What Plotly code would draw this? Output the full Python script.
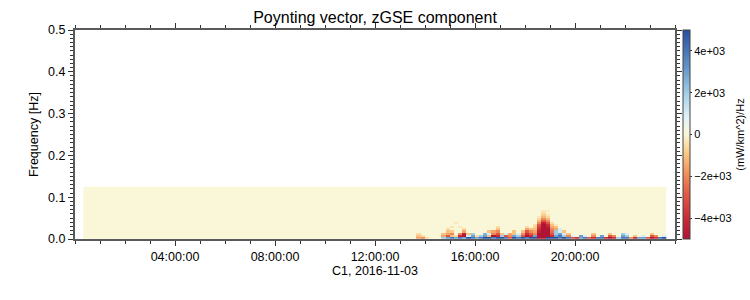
import plotly.graph_objects as go
from datetime import datetime, timedelta

# ---------------- data ----------------
title_text = "Poynting vector, zGSE component"
xaxis_title = "C1, 2016-11-03"
yaxis_title = "Frequency [Hz]"
cbar_title = "(mW/km^2)/Hz"

day_start = "2016-11-03 00:00:00"
day_end = "2016-11-04 00:00:00"
x_tick_times = ["2016-11-03 04:00:00", "2016-11-03 08:00:00", "2016-11-03 12:00:00",
                "2016-11-03 16:00:00", "2016-11-03 20:00:00"]

cbar_tickvals = [-4000, -2000, 0, 2000, 4000]
cbar_ticktext = ["\u22124e+03", "\u22122e+03", "0", "2e+03", "4e+03"]
z_min, z_max = -5000, 5000

# spectrogram grid: 10-minute columns starting 00:25 (centre), 0.005 Hz rows
first_col_center = "2016-11-03 00:25:00"
n_cols = 140
col_minutes = 10
freq_centers = [0.0025, 0.0075, 0.0125, 0.0175, 0.0225, 0.0275, 0.0325, 0.0375,
                0.0425, 0.0475, 0.0525, 0.0575, 0.0625, 0.0675, 0.0725, 0.0775,
                0.0825, 0.0875, 0.0925, 0.0975, 0.1025, 0.1075, 0.1125, 0.1175, 0.1225]
quiet_cols = 80  # 00:20 - 13:40 is ~0 everywhere

# active window 13:40 - 23:40, values in units of 1e3 (mW/km^2)/Hz, rows from lowest freq
act_row0 = [-1.5, -2, -0.5, 0, 0, 0, 2, 3, 4, 3, 4, 3, 5, 4, 3, 4, 5, 5, 4, 5,
            5, 4, -3, 5, 4, 5, 4, 5, 5, -5, -5, 5, 5, 5, 4, 5, 4, -3, -4, 3,
            4, -3, -4, 4, 4, -4, -5, -4, 2, 4, 4, -2, -4, 3, 3, -3, -5, -4, 4, 5]
act_row1 = [-1, -0.5, 0, 0, 0, 0, -1.5, -3, -1, -0.5, -4, -5, 1, 3, -0.5, 2, 3, -1, -5, -4,
            2, -3, -2, 3, 2, -3, -5, -4, 3, -5, -5, -5, -4, 3, 4, 2, -2, 1, 0, 3,
            1, 0, -2, 0, 3, 0, -3, -2, 0, 3, 2, 0, -1, 0, 1, 0, -3, -2, 0, 1]
act_row2 = [-0.5, 0, 0, 0, 0, 0, -1, -1.5, -2, 0, -2, -4.5, -1, 2, 0, 0, 2.5, 1, -2, -3,
            -1, 1, -1.5, -1, 1, -2, -4, -3, -2, -5, -5, -5, -3, 2, 3, 1, -1, 0, 0, 0,
            0, 0, -1, 0, 0, 0, -1, 0, 0, 2, 1, 0, 0, 0, 0, 0, -1, 0, 0, 0]
act_row3 = [0, 0, 0, 0, 0, 0, 0, -1, -0.8, 0, 0, -1.5, 0, 0, 0, 0, 0, -1, -1.5, -2,
            0, 0, 0, -1, 0, -1, -3, -2, -1.5, -4.5, -5, -5, -2.5, 2, 1, -1, 0, 0, 0, 0,
            0, 0, 0, 0, 0, 0, 0, 0, 0, 0, 0, 0, 0, 0, 0, 0, 0, 0, 0, 0]
act_row4 = [0, 0, 0, 0, 0, 0, 0, -0.5, 0, 0, 0, -0.6, 0, 0, 0, 0, 0, 0, 0, -1,
            0, 0, 0, 0, 0, 0, -1.5, -1, -1, -4, -5, -5, -2, -1.5, 1, 0, 0, 0, 0, 0,
            0, 0, 0, 0, 0, 0, 0, 0, 0, 0, 0, 0, 0, 0, 0, 0, 0, 0, 0, 0]
act_row5 = [0, 0, 0, 0, 0, 0, 0, 0, -0.4, 0, -0.3, 0, 0, 0, 0, 0, 0, 0, 0, -0.5,
            0, 0, 0, 0, 0, 0, -0.5, 0, -0.8, -3.5, -5, -4.5, -1.5, -1, 0, 0, 0, 0, 0, 0,
            0, 0, 0, 0, 0, 0, 0, 0, 0, 0, 0, 0, 0, 0, 0, 0, 0, 0, 0, 0]
act_row6 = [0, 0, 0, 0, 0, 0, 0, 0, 0, 0, 0, 0, 0, 0, 0, 0, 0, 0, 0, 0,
            0, 0, 0, 0, 0, 0, 0, 0, -0.5, -3, -5, -4, -1, -0.3, 0, 0, 0, 0, 0, 0,
            0, 0, 0, 0, 0, 0, 0, 0, 0, 0, 0, 0, 0, 0, 0, 0, 0, 0, 0, 0]
act_row7 = [0, 0, 0, 0, 0, 0, 0, 0, 0, -0.3, 0, 0, 0, 0, 0, 0, 0, 0, 0, 0,
            0, 0, 0, 0, 0, 0, 0, 0, 0, -2, -4.5, -3, -0.5, 0, 0, 0, 0, 0, 0, 0,
            0, 0, 0, 0, 0, 0, 0, 0, 0, 0, 0, 0, 0, 0, 0, 0, 0, 0, 0, 0]
act_row8 = [0, 0, 0, 0, 0, 0, 0, 0, 0, 0, 0, 0, 0, 0, 0, 0, 0, 0, 0, 0,
            0, 0, 0, 0, 0, 0, 0, 0, 0, -1.2, -3, -2, 0, 0, 0, 0, 0, 0, 0, 0,
            0, 0, 0, 0, 0, 0, 0, 0, 0, 0, 0, 0, 0, 0, 0, 0, 0, 0, 0, 0]
act_row9 = [0, 0, 0, 0, 0, 0, 0, 0, 0, 0, 0, 0, 0, 0, 0, 0, 0, 0, 0, 0,
            0, 0, 0, 0, 0, 0, 0, 0, 0, -0.6, -2, -1.2, 0, 0, 0, 0, 0, 0, 0, 0,
            0, 0, 0, 0, 0, 0, 0, 0, 0, 0, 0, 0, 0, 0, 0, 0, 0, 0, 0, 0]
act_row10 = [0, 0, 0, 0, 0, 0, 0, 0, 0, 0, 0, 0, 0, 0, 0, 0, 0, 0, 0, 0,
             0, 0, 0, 0, 0, 0, 0, 0, 0, -0.3, -1.2, -0.6, 0, 0, 0, 0, 0, 0, 0, 0,
             0, 0, 0, 0, 0, 0, 0, 0, 0, 0, 0, 0, 0, 0, 0, 0, 0, 0, 0, 0]
act_row11 = [0, 0, 0, 0, 0, 0, 0, 0, 0, 0, 0, 0, 0, 0, 0, 0, 0, 0, 0, 0,
             0, 0, 0, 0, 0, 0, 0, 0, 0, 0, -0.8, -0.3, 0, 0, 0, 0, 0, 0, 0, 0,
             0, 0, 0, 0, 0, 0, 0, 0, 0, 0, 0, 0, 0, 0, 0, 0, 0, 0, 0, 0]
act_row12 = [0, 0, 0, 0, 0, 0, 0, 0, 0, 0, 0, 0, 0, 0, 0, 0, 0, 0, 0, 0,
             0, 0, 0, 0, 0, 0, 0, 0, 0, 0, -0.5, 0, 0, 0, 0, 0, 0, 0, 0, 0,
             0, 0, 0, 0, 0, 0, 0, 0, 0, 0, 0, 0, 0, 0, 0, 0, 0, 0, 0, 0]
act_row13 = [0, 0, 0, 0, 0, 0, 0, 0, 0, 0, 0, 0, 0, 0, 0, 0, 0, 0, 0, 0,
             0, 0, 0, 0, 0, 0, 0, 0, 0, 0, -0.3, -0.2, 0, 0, 0, 0, 0, 0, 0, 0,
             0, 0, 0, 0, 0, 0, 0, 0, 0, 0, 0, 0, 0, 0, 0, 0, 0, 0, 0, 0]
active_rows = [act_row0, act_row1, act_row2, act_row3, act_row4, act_row5, act_row6,
               act_row7, act_row8, act_row9, act_row10, act_row11, act_row12, act_row13]

# ---------------- build grid ----------------
t0 = datetime.strptime(first_col_center, "%Y-%m-%d %H:%M:%S")
times = [t0 + timedelta(minutes=col_minutes * i) for i in range(n_cols)]
z = []
for j in range(len(freq_centers)):
    row = [0.0] * n_cols
    if j < len(active_rows):
        for k, v in enumerate(active_rows[j]):
            row[quiet_cols + k] = v * 1000.0
    z.append(row)

colorscale = [
    [0.00, "rgb(176,20,52)"],
    [0.10, "rgb(203,44,56)"],
    [0.22, "rgb(226,92,72)"],
    [0.32, "rgb(242,148,92)"],
    [0.42, "rgb(250,206,138)"],
    [0.50, "rgb(250,246,216)"],
    [0.58, "rgb(226,242,246)"],
    [0.68, "rgb(172,212,234)"],
    [0.82, "rgb(98,150,202)"],
    [1.00, "rgb(40,78,158)"],
]

FONT = "Liberation Sans, Arial, Helvetica, sans-serif"
fig = go.Figure(go.Heatmap(
    x=times, y=freq_centers, z=z,
    zmin=z_min, zmax=z_max, colorscale=colorscale,
    colorbar=dict(
        thickness=7, len=1, lenmode="fraction", y=0.5, yanchor="middle",
        x=1.013, xanchor="left", xpad=0, ypad=0,
        outlinecolor="#444", outlinewidth=1,
        tickvals=cbar_tickvals, ticktext=cbar_ticktext,
        ticks="outside", ticklen=2, tickcolor="#333",
        tickfont=dict(size=11, color="black", family=FONT),
        title=dict(text=cbar_title, side="right", font=dict(size=11, color="black", family=FONT)),
    ),
    hoverinfo="skip",
))

axis_common = dict(
    showline=True, linecolor="#5a5a5a", linewidth=2, mirror="allticks",
    ticks="outside", tickcolor="#333", showgrid=False, zeroline=False,
    tickfont=dict(size=12.5, color="black", family=FONT),
)

fig.update_xaxes(
    type="date", range=[day_start, day_end],
    tickvals=x_tick_times, tickformat="%H:%M:%S", ticklen=5,
    minor=dict(dtick=3600000, ticks="outside", ticklen=3, tickcolor="#333", showgrid=False),
    title=dict(text=xaxis_title, standoff=2, font=dict(size=12.5, color="black", family=FONT)),
    automargin=False,
    **axis_common,
)
fig.update_yaxes(
    range=[0, 0.5], dtick=0.1, tickformat=".1f", ticklen=5,
    minor=dict(dtick=0.01, ticks="outside", ticklen=3, tickcolor="#333", showgrid=False),
    title=dict(text=yaxis_title, standoff=7, font=dict(size=12.5, color="black", family=FONT)),
    automargin=False,
    **axis_common,
)

fig.update_layout(
    width=750, height=300,
    margin=dict(l=75, r=75, t=30, b=61, autoexpand=False),
    paper_bgcolor="white", plot_bgcolor="white",
    font=dict(family=FONT, color="black"),
    title=dict(text=title_text, x=0.5, xanchor="center", xref="paper",
               y=1 - 17 / 300, yref="container", yanchor="middle",
               font=dict(size=16, color="black", family=FONT)),
)

fig.write_html("out.html")
